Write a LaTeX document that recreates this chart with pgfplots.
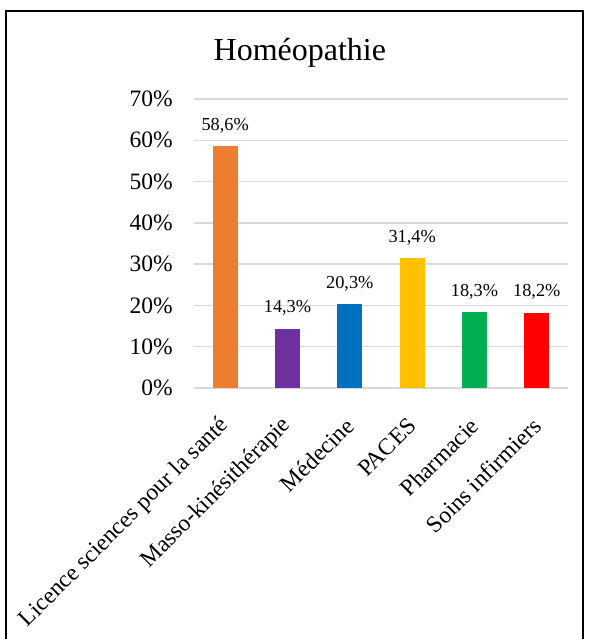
\documentclass[border=0pt]{standalone}
\usepackage{fontspec}
\setmainfont{Liberation Serif}
\usepackage{pgfplots}
\pgfplotsset{compat=1.18}
\definecolor{cO}{HTML}{ED7D31}
\definecolor{cP}{HTML}{7030A0}
\definecolor{cB}{HTML}{0070C0}
\definecolor{cY}{HTML}{FFC000}
\definecolor{cG}{HTML}{00B050}
\definecolor{cR}{HTML}{FF0000}
\definecolor{gridgray}{HTML}{D9D9D9}
\begin{document}
\begin{tikzpicture}[x=1pt,y=1pt]
\useasboundingbox (0,0) rectangle (590,639);
\draw[line width=2.5pt] (6,0) -- (6,628) -- (583,628) -- (583,0);
\begin{axis}[
 at={(194pt,251pt)}, anchor=south west, scale only axis, width=374pt, height=289pt,
 xmin=-0.5, xmax=5.5, ymin=0, ymax=70,
 xtick={0,1,2,3,4,5},
 xticklabels={Licence sciences pour la santé, Masso-kinésithérapie, Médecine, PACES, Pharmacie, Soins infirmiers},
 ytick={0,10,...,70},
 yticklabel={\pgfmathprintnumber{\tick}\%},
 /pgf/number format/assume math mode=true,
 ymajorgrids, major grid style={color=gridgray, line width=1.5pt},
 axis line style={draw=none},
 major tick length=0pt,
 tick label style={font=\fontsize{23.5}{28}\selectfont},
 yticklabel style={inner sep=0pt, xshift=-21pt},
 xticklabel style={yshift=-34pt, rotate=45, anchor=east, inner sep=0pt},
 ybar, bar width=25pt,
 nodes near coords={\pgfmathprintnumber[fixed,fixed zerofill,precision=1,use comma,assume math mode=true]{\pgfplotspointmeta}\%},
 every node near coord/.append style={font=\fontsize{18.3}{22}\selectfont, anchor=base, inner sep=0pt, yshift=16pt, text=black},
 title={Homéopathie},
 title style={at={(axis description cs:0.283,1)}, anchor=base, yshift=32pt, font=\fontsize{32}{38}\selectfont},
 clip=false,
]
\addplot[fill=cO, draw=none, bar shift=0pt] coordinates {(0,58.6)};
\addplot[fill=cP, draw=none, bar shift=0pt] coordinates {(1,14.3)};
\addplot[fill=cB, draw=none, bar shift=0pt] coordinates {(2,20.3)};
\addplot[fill=cY, draw=none, bar shift=0pt] coordinates {(3,31.4)};
\addplot[fill=cG, draw=none, bar shift=0pt] coordinates {(4,18.3)};
\addplot[fill=cR, draw=none, bar shift=0pt] coordinates {(5,18.2)};
\end{axis}
\end{tikzpicture}
\end{document}
